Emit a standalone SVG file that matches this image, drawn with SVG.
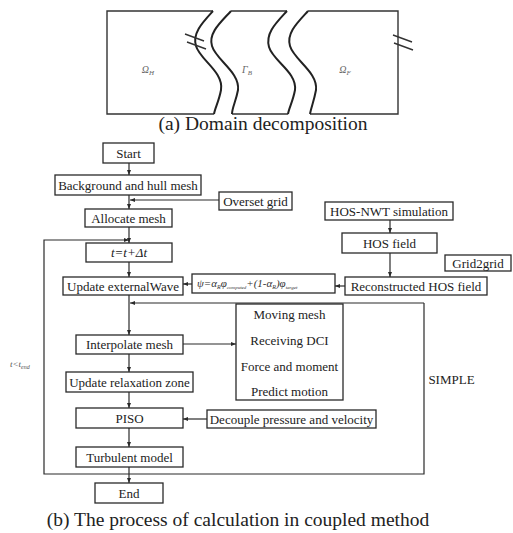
<svg xmlns="http://www.w3.org/2000/svg" width="513" height="533" viewBox="0 0 513 533">
<style>
.bx{fill:#fff;stroke:#2a2a2a;stroke-width:1.3}
.t{font-family:"Liberation Serif",serif;font-size:13px;fill:#222;text-anchor:middle}
.c{fill:none;stroke:#2a2a2a;stroke-width:1.2}
.dom{fill:none;stroke:#333;stroke-width:1.4}
.wav{fill:none;stroke:#222;stroke-width:2}
.lab{font-family:"Liberation Serif",serif;font-style:italic;font-size:10px;fill:#666;text-anchor:middle}
.cap{font-family:"Liberation Serif",serif;font-size:19.5px;fill:#222;text-anchor:middle}
</style>
<defs>
<marker id="ah" viewBox="0 0 10 10" refX="10" refY="5" markerWidth="5" markerHeight="5" orient="auto" markerUnits="userSpaceOnUse">
<path d="M0,1 L10,5 L0,9 z" fill="#2a2a2a"/>
</marker>
</defs>
<rect width="513" height="533" fill="#fff"/>

<g id="domain">
<path class="dom" d="M213,11 H107 V114 H214"/>
<path class="dom" d="M231,11 H287 M232,114 H288"/>
<path class="dom" d="M308,11 H398 V114 H310"/>
<path class="wav" d="M213,11 C203,22 192,33 196,46 C200,60 224,72 221,90 C219,101 215,108 214,114"/>
<path class="wav" d="M231,11 C221,22 208,33 212,46 C216,60 240,72 238,90 C236,101 232,108 232,114"/>
<path class="wav" d="M287,11 C277,22 265,33 269,47 C273,61 297,72 295,90 C293,101 289,108 288,114"/>
<path class="wav" d="M308,11 C298,22 286,33 290,46 C294,60 318,72 316,90 C314,101 311,108 310,114"/>
<path class="dom" d="M185,34 L204,41 M187,42 L206,49 M393,35 L412,42 M394,43 L413,50"/>
<text class="lab" x="148" y="73">Ω<tspan font-size="7" dy="2">H</tspan></text>
<text class="lab" x="247" y="73">Γ<tspan font-size="7" dy="2">B</tspan></text>
<text class="lab" x="345" y="73">Ω<tspan font-size="7" dy="2">F</tspan></text>
<text class="cap" x="263" y="130">(a) Domain decomposition</text>
</g>

<g id="connectors">
<path class="c" d="M129,163 V175" marker-end="url(#ah)"/>
<path class="c" d="M129,195 V209" marker-end="url(#ah)"/>
<path class="c" d="M219,200 H130" marker-end="url(#ah)"/>
<path class="c" d="M129,227 V243" marker-end="url(#ah)"/>
<path class="c" d="M424,303 V474 H44 V240 H129" marker-end="url(#ah)"/>
<path class="c" d="M424,303 H130" marker-end="url(#ah)"/>
<path class="c" d="M129,262 V277" marker-end="url(#ah)"/>
<path class="c" d="M129,295 V335" marker-end="url(#ah)"/>
<path class="c" d="M192,284 H183" marker-end="url(#ah)"/>
<path class="c" d="M345,286 H335" marker-end="url(#ah)"/>
<path class="c" d="M390,220 V233" marker-end="url(#ah)"/>
<path class="c" d="M390,253 V277" marker-end="url(#ah)"/>
<path class="c" d="M183,344 H236" marker-end="url(#ah)"/>
<path class="c" d="M129,354 V372" marker-end="url(#ah)"/>
<path class="c" d="M129,392 V408" marker-end="url(#ah)"/>
<path class="c" d="M207,419 H183" marker-end="url(#ah)"/>
<path class="c" d="M129,428 V447" marker-end="url(#ah)"/>
<path class="c" d="M129,467 V483" marker-end="url(#ah)"/>
<path class="c" d="M290,320 V331" marker-end="url(#ah)"/>
<path class="c" d="M290,346 V357" marker-end="url(#ah)"/>
<path class="c" d="M290,372 V383" marker-end="url(#ah)"/>
</g>

<g id="start"><rect class="bx" x="103" y="143" width="51" height="20"/><text class="t" x="128.5" y="157.5">Start</text></g>
<g id="background"><rect class="bx" x="55" y="175" width="146" height="20"/><text class="t" x="128" y="189.5">Background and hull mesh</text></g>
<g id="overset"><rect class="bx" x="219" y="192" width="73" height="18"/><text class="t" x="255.5" y="205.5">Overset grid</text></g>
<g id="allocate"><rect class="bx" x="85" y="209" width="87" height="18"/><text class="t" x="128.5" y="222.5">Allocate mesh</text></g>
<g id="timestep"><rect class="bx" x="86" y="243" width="86" height="19"/><text class="t" x="129" y="257" font-style="italic" font-size="11">t=t+Δt</text></g>
<g id="updatewave"><rect class="bx" x="63" y="277" width="120" height="18"/><text class="t" x="123" y="290.5">Update externalWave</text></g>
<g id="formula"><rect class="bx" x="192" y="274" width="143" height="19"/><text x="197" y="287" font-family="'Liberation Serif',serif" font-style="italic" font-size="11" fill="#333">ψ=α<tspan font-size="6" dy="2">R</tspan><tspan dy="-2">φ</tspan><tspan font-size="5" dy="2">computed</tspan><tspan dy="-2">+(1-α</tspan><tspan font-size="6" dy="2">R</tspan><tspan dy="-2">)φ</tspan><tspan font-size="5" dy="2">target</tspan></text></g>
<g id="reconstructed"><rect class="bx" x="345" y="277" width="142" height="18"/><text class="t" x="416" y="290.5">Reconstructed HOS field</text></g>
<g id="hosnwt"><rect class="bx" x="325" y="202" width="128" height="18"/><text class="t" x="389" y="215.5">HOS-NWT simulation</text></g>
<g id="hosfield"><rect class="bx" x="342" y="233" width="95" height="20"/><text class="t" x="389.5" y="247.5">HOS field</text></g>
<g id="grid2grid"><rect class="bx" x="445" y="255" width="66" height="16"/><text class="t" x="478" y="267.5" font-size="12">Grid2grid</text></g>
<g id="interpolate"><rect class="bx" x="76" y="335" width="107" height="19"/><text class="t" x="129.5" y="349">Interpolate mesh</text></g>
<g id="motion"><rect class="bx" x="236" y="304" width="107" height="96"/>
<text class="t" x="289.5" y="319">Moving mesh</text>
<text class="t" x="289.5" y="345">Receiving DCI</text>
<text class="t" x="289.5" y="371">Force and moment</text>
<text class="t" x="289.5" y="396">Predict motion</text></g>
<g id="relaxation"><rect class="bx" x="66" y="372" width="127" height="20"/><text class="t" x="129.5" y="386.5">Update relaxation zone</text></g>
<g id="piso"><rect class="bx" x="76" y="408" width="107" height="20"/><text class="t" x="129.5" y="422.5">PISO</text></g>
<g id="decouple"><rect class="bx" x="207" y="410" width="169" height="18"/><text class="t" x="291.5" y="423.5">Decouple pressure and velocity</text></g>
<g id="turbulent"><rect class="bx" x="76" y="447" width="107" height="20"/><text class="t" x="129.5" y="461.5">Turbulent model</text></g>
<g id="end"><rect class="bx" x="95" y="483" width="68" height="20"/><text class="t" x="129" y="497.5">End</text></g>

<text x="10" y="367" font-family="'Liberation Serif',serif" font-style="italic" font-size="9" fill="#555">t&lt;t<tspan font-size="6" dy="1.5">end</tspan></text>
<text class="t" x="451.5" y="384">SIMPLE</text>
<text class="cap" x="238" y="526">(b) The process of calculation in coupled method</text>
</svg>
